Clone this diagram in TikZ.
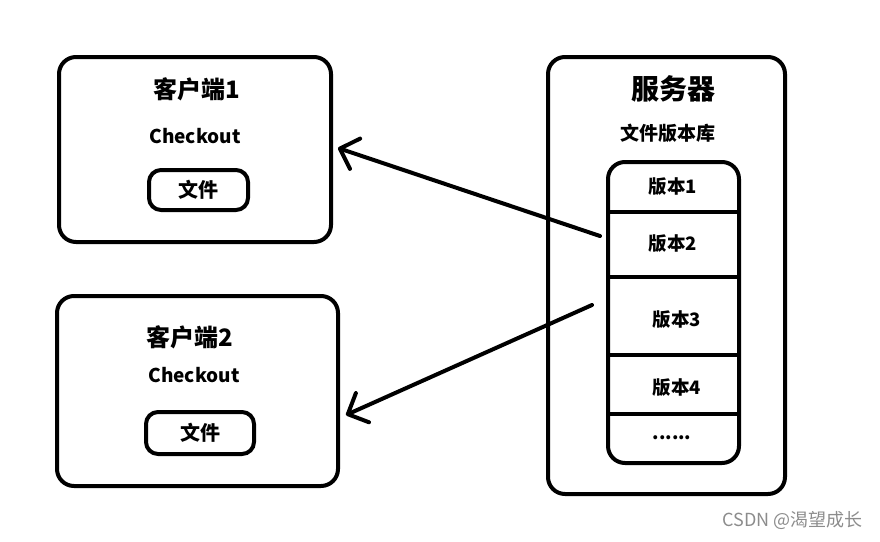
\documentclass[tikz,border=0pt]{standalone}
\usepackage{fontspec}
\setmainfont{Noto Sans CJK SC}
\usetikzlibrary{arrows.meta}
\begin{document}
\begin{tikzpicture}[x=1pt,y=-1pt,
  box/.style={draw,line width=4pt,rounded corners=17pt,inner sep=0pt},
  filebox/.style={draw,line width=4pt,rounded corners=12pt,inner sep=0pt,font=\bfseries\fontsize{20}{22}\selectfont},
  title/.style={font=\bfseries\fontsize{24}{27}\selectfont,inner sep=0pt},
  sub/.style={font=\bfseries\fontsize{19}{21}\selectfont,inner sep=0pt},
  ver/.style={font=\bfseries\fontsize{18.5}{21}\selectfont,inner sep=0pt},
  divider/.style={line width=4pt},
  conn/.style={line width=4pt,line cap=round,-{Straight Barb[length=16pt,width=32pt,line cap=round,line join=round]}}
]
\useasboundingbox (0,0) rectangle (880,541);
% client 1
\node[box,minimum width=272pt,minimum height=185pt] (c1) at (195,149.5) {};
\node[title] (c1t) at (197,89) {客户端1};
\node[sub] (c1c) at (195,136) {Checkout};
\node[filebox,minimum width=99pt,minimum height=40pt] (f1) at (198.5,190) {文件};
% client 2
\node[box,minimum width=281pt,minimum height=190pt] (c2) at (197.5,391) {};
\node[title] (c2t) at (190,337) {客户端2};
\node[sub] (c2c) at (194,375) {Checkout};
\node[filebox,minimum width=108pt,minimum height=42pt] (f2) at (200,433) {文件};
% server
\node[box,minimum width=237pt,minimum height=437pt] (s) at (666.5,275.5) {};
\node[font=\bfseries\fontsize{28}{32}\selectfont,inner sep=0pt] (st) at (673,89) {服务器};
\node[sub] (sr) at (668,133) {文件版本库};
\node[box,minimum width=131pt,minimum height=301pt] (repo) at (673.5,312.5) {};
\foreach \y in {211.5,276.5,354.5,413.5}
  \draw[divider] (repo.west |- 0,\y) -- (repo.east |- 0,\y);
\node[ver] (v1) at (673,187) {版本1};
\node[ver] (v2) at (673,244) {版本2};
\node[ver] (v3) at (677,320) {版本3};
\node[ver] (v4) at (677,388) {版本4};
\node[ver] (v5) at (672,438) {......};
% connectors
\coordinate (a1s) at (600,236);
\coordinate (a1e) at (338,148);
\coordinate (a2s) at (592,305);
\coordinate (a2e) at (346,415);
\draw[conn] (a1s) -- (a1e);
\draw[conn] (a2s) -- (a2e);
% watermark
\node[font=\fontsize{18}{21}\selectfont,text=black!45,inner sep=0pt,anchor=east] (wm) at (863,520) {CSDN @渴望成长};
\end{tikzpicture}
\end{document}
